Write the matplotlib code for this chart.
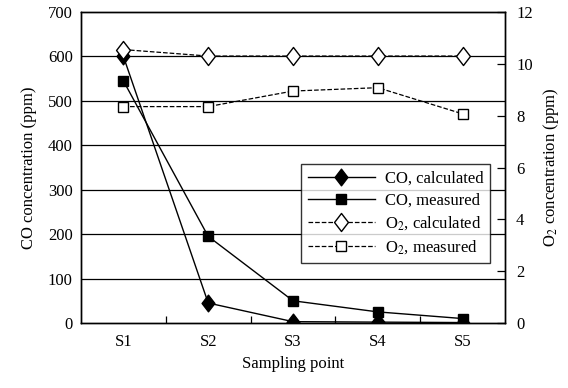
import matplotlib
matplotlib.use("Agg")
import matplotlib.pyplot as plt
from matplotlib.ticker import MultipleLocator, FixedLocator
from matplotlib.path import Path

plt.rcParams['font.family'] = ['Liberation Serif', 'DejaVu Serif']
plt.rcParams['mathtext.fontset'] = 'stix'

points = ["S1", "S2", "S3", "S4", "S5"]
co_calc = [600, 45, 3, 2, 1]
co_meas = [545, 195, 50, 25, 10]
o2_calc = [10.55, 10.3, 10.3, 10.3, 10.3]
o2_meas = [8.35, 8.35, 8.95, 9.08, 8.07]

diamond = Path([(0, 1.3), (1, 0), (0, -1.3), (-1, 0), (0, 1.3)],
               [Path.MOVETO, Path.LINETO, Path.LINETO, Path.LINETO, Path.CLOSEPOLY])

fig = plt.figure(figsize=(5.68, 3.88), dpi=100)
ax = fig.add_axes([81/568, 1-323/388, (505-81)/568, (323-12)/388])
ax2 = ax.twinx()

x = list(range(len(points)))
ax.set_ylim(0, 700)
ax.set_xlim(-0.5, 4.5)
ax.yaxis.set_major_locator(MultipleLocator(100))
for v in range(100, 700, 100):
    ax.axhline(v, color='black', lw=0.9, zorder=0)

l1, = ax.plot(x, co_calc, '-', color='black', marker=diamond, ms=12, mfc='black', lw=1.0, label='CO, calculated', zorder=3)
l2, = ax.plot(x, co_meas, '-', color='black', marker='s', ms=7, mfc='black', lw=1.0, label='CO, measured', zorder=3)
ax2.set_ylim(0, 12)
ax2.yaxis.set_major_locator(MultipleLocator(2))
l3, = ax2.plot(x, o2_calc, '--', color='black', marker=diamond, ms=13, mfc='white', lw=0.9, label='O$_2$, calculated', zorder=3)
l4, = ax2.plot(x, o2_meas, '--', color='black', marker='s', ms=7, mfc='white', lw=0.9, label='O$_2$, measured', zorder=3)

ax.set_xticks(x)
ax.set_xticklabels(points)
ax.tick_params(axis='x', length=0, labelsize=12, pad=8)
ax.xaxis.set_minor_locator(FixedLocator([0.5, 1.5, 2.5, 3.5]))
ax.tick_params(axis='x', which='minor', direction='in', length=5, width=0.9)
ax.tick_params(axis='y', length=0, labelsize=12, pad=6)
ax2.tick_params(axis='y', direction='in', length=6, width=0.9, labelsize=12, pad=8)

for a in (ax, ax2):
    for s in a.spines.values():
        s.set_linewidth(1.0)

ax.set_xlabel('Sampling point', fontsize=12, labelpad=4)
ax.set_ylabel('CO concentration (ppm)', fontsize=12, labelpad=8)
ax2.set_ylabel('O$_2$ concentration (ppm)', fontsize=12, labelpad=6)

leg = ax.legend(handles=[l1, l2, l3, l4], loc='upper left', bbox_to_anchor=((293-81)/424, 1-(156-12)/311),
                fontsize=12, frameon=True, fancybox=False, edgecolor='black', handlelength=4.0,
                borderpad=0.4, labelspacing=0.35, handletextpad=0.6)
leg.get_frame().set_linewidth(1.0)
leg.set_zorder(5)

fig.savefig('out.png', dpi=100)
